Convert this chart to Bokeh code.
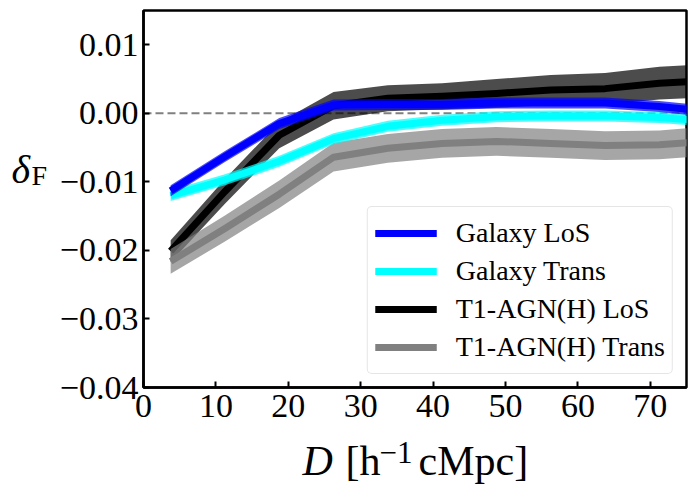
from bokeh.plotting import figure
from bokeh.models import FixedTicker, Span, Label, Legend, LegendItem, Range1d
from bokeh.layouts import row, column
from bokeh.embed import file_html
from bokeh.resources import INLINE

# ---------------- data ----------------
D = [3.75, 11.25, 18.75, 26.25, 33.75, 41.25, 48.75, 56.25, 63.75, 71.25, 78.75]

gal_los = [-0.0113, -0.0063, -0.0015, 0.0012, 0.0013, 0.0013, 0.0015, 0.0015, 0.0015, 0.0010, 0.0002]
gal_los_err = [0.0008, 0.0008, 0.0008, 0.0008, 0.0008, 0.0008, 0.0008, 0.0008, 0.0008, 0.0008, 0.0008]

gal_trans = [-0.0120, -0.0097, -0.0070, -0.0037, -0.0019, -0.0010, -0.0005, -0.0004, -0.0004, -0.0006, -0.0012]
gal_trans_err = [0.0008, 0.0008, 0.0008, 0.0008, 0.0008, 0.0008, 0.0008, 0.0008, 0.0008, 0.0008, 0.0008]

agn_los = [-0.0201, -0.0114, -0.0032, 0.0011, 0.0022, 0.0025, 0.0029, 0.0034, 0.0036, 0.0044, 0.0048]
agn_los_err = [0.0016, 0.0018, 0.0019, 0.0020, 0.0019, 0.0019, 0.0021, 0.0022, 0.0023, 0.0024, 0.0024]

agn_trans = [-0.0216, -0.0168, -0.0118, -0.0064, -0.0051, -0.0044, -0.0041, -0.0044, -0.0047, -0.0046, -0.0040]
agn_trans_err = [0.0018, 0.0019, 0.0020, 0.0021, 0.0021, 0.0021, 0.0021, 0.0021, 0.0021, 0.0021, 0.0021]

series_names = ["Galaxy LoS", "Galaxy Trans", "T1-AGN(H) LoS", "T1-AGN(H) Trans"]
series_colors = ["#0000ff", "#00ffff", "#000000", "#808080"]

x_ticks = [0, 10, 20, 30, 40, 50, 60, 70]
y_ticks = [-0.04, -0.03, -0.02, -0.01, 0.0, 0.01]
y_tick_labels = ["\u22120.04", "\u22120.03", "\u22120.02", "\u22120.01", "0.00", "0.01"]

FONT = "Liberation Serif"

# ---------------- layout sizes ----------------
TOTAL_W, TOTAL_H = 695, 489
LEFT_W = 54
MAIN_W = TOTAL_W - LEFT_W
MAIN_H = 433
BOTTOM_H = TOTAL_H - MAIN_H

# ---------------- main figure ----------------
p = figure(width=MAIN_W, height=MAIN_H, output_backend="svg", toolbar_location=None,
           x_range=Range1d(0, 75), y_range=Range1d(-0.04, 0.015),
           min_border_left=143 - LEFT_W, min_border_right=9, min_border_top=10,
           min_border_bottom=MAIN_H - 387)
p.grid.visible = False
p.outline_line_color = "black"
p.outline_line_width = 2.5
p.background_fill_color = "white"
p.border_fill_color = "white"

zero = Span(location=0, dimension="width", line_color="#808080", line_dash="8 4",
            line_width=2, level="underlay")
p.add_layout(zero)

def band_lo(v, e):
    return [a - b for a, b in zip(v, e)]

def band_hi(v, e):
    return [a + b for a, b in zip(v, e)]

data = {
    "Galaxy LoS": (gal_los, gal_los_err),
    "Galaxy Trans": (gal_trans, gal_trans_err),
    "T1-AGN(H) LoS": (agn_los, agn_los_err),
    "T1-AGN(H) Trans": (agn_trans, agn_trans_err),
}
colors = dict(zip(series_names, series_colors))

renderers = {}
for name in ["T1-AGN(H) LoS", "T1-AGN(H) Trans", "Galaxy Trans", "Galaxy LoS"]:
    v, e = data[name]
    c = colors[name]
    p.varea(x=D, y1=band_lo(v, e), y2=band_hi(v, e), fill_color=c, fill_alpha=0.7)
    renderers[name] = p.line(x=D, y=v, line_color=c, line_width=7, line_join="round")

for ax in (p.xaxis[0], p.yaxis[0]):
    ax.axis_line_width = 2.5
    ax.axis_line_color = "black"
    ax.major_tick_in = 6
    ax.major_tick_out = 0
    ax.major_tick_line_width = 2
    ax.major_tick_line_color = "black"
    ax.minor_tick_line_color = None
    ax.major_label_text_font = FONT
    ax.major_label_text_font_size = "34px"
    ax.major_label_text_color = "black"

p.xaxis.ticker = FixedTicker(ticks=x_ticks)
p.yaxis.ticker = FixedTicker(ticks=y_ticks)
p.yaxis.major_label_overrides = {t: lab for t, lab in zip(y_ticks, y_tick_labels)}
p.yaxis.major_label_standoff = 5
p.xaxis.major_label_standoff = 7

items = [LegendItem(label=n, renderers=[renderers[n]]) for n in series_names]
legend = Legend(items=items, location="bottom_right", margin=13, padding=7, spacing=0,
                glyph_width=62, glyph_height=38, label_height=38, label_standoff=19,
                label_text_font=FONT, label_text_font_size="28px", label_text_color="black",
                border_line_color="#cccccc", border_line_width=1,
                background_fill_color="white", background_fill_alpha=0.8)
try:
    legend.border_radius = 5
except Exception:
    pass
p.add_layout(legend)

# ---------------- text panels (pixel coordinates from top-left of page) ----------------
def text_panel(w, h, x0, y0):
    f = figure(width=w, height=h, output_backend="svg", toolbar_location=None,
               x_range=Range1d(x0, x0 + w), y_range=Range1d(y0 + h, y0),
               x_axis_location=None, y_axis_location=None, min_border=0)
    f.grid.visible = False
    f.outline_line_color = None
    f.background_fill_color = "white"
    f.border_fill_color = "white"
    return f

def lab(f, x, y, text, size, style="normal"):
    f.add_layout(Label(x=x, y=y, text=text, text_font=FONT, text_font_size=size,
                       text_font_style=style, text_color="black",
                       text_baseline="alphabetic", text_align="left"))

left = text_panel(LEFT_W, MAIN_H, 0, 0)
lab(left, 11, 183, "\u03b4", "40px", "italic")
lab(left, 31, 190, "F", "28px")

bottom = text_panel(TOTAL_W, BOTTOM_H, 0, MAIN_H)
lab(bottom, 302, 460, "D", "42px", "italic")
lab(bottom, 345, 460, "[h", "42px")
lab(bottom, 379, 452, "\u22121", "31px")
lab(bottom, 418, 460, "cMpc]", "42px")

layout = column(row(left, p, spacing=0), bottom, spacing=0)

open("out.html", "w").write(file_html(layout, INLINE))
